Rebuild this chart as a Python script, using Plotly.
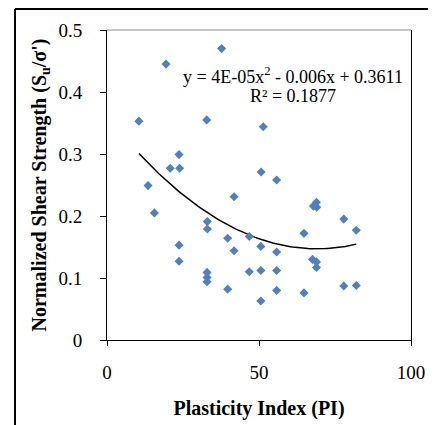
import numpy as np
import plotly.graph_objects as go

# Plasticity Index (PI) and normalized shear strength Su/σ'
pi_values = [37.7, 19.4, 10.5, 32.8, 51.4, 23.7, 20.8, 23.9, 50.7, 13.5,
             55.8, 41.8, 15.6, 33.0, 33.0, 23.7, 39.7, 46.8, 50.6, 41.8,
             23.7, 32.9, 32.9, 32.9, 46.8, 50.6, 39.7, 50.6, 67.9, 68.9,
             69.0, 77.9, 82.0, 64.8, 55.8, 67.6, 68.9, 68.9, 55.8, 55.8,
             64.8, 77.9, 82.0]
su_values = [0.470, 0.445, 0.353, 0.355, 0.344, 0.299, 0.277, 0.277, 0.271, 0.249,
             0.258, 0.231, 0.205, 0.191, 0.179, 0.153, 0.164, 0.167, 0.151, 0.144,
             0.127, 0.109, 0.101, 0.094, 0.110, 0.112, 0.082, 0.063, 0.216, 0.222,
             0.214, 0.195, 0.177, 0.172, 0.142, 0.130, 0.126, 0.117, 0.112, 0.080,
             0.076, 0.087, 0.088]

# polynomial trendline coefficients (a x^2 + b x + c)
trend_coef = [4.49e-5, -0.0062, 0.3611]
equation_line = "y = 4E-05x<sup>2</sup> - 0.006x + 0.3611"
r2_line = "R² = 0.1877"

x_ticks = [0, 50, 100]
y_ticks = [0, 0.1, 0.2, 0.3, 0.4, 0.5]
y_tick_labels = ["0", "0.1", "0.2", "0.3", "0.4", "0.5"]

FONT = "Liberation Serif, Times New Roman, serif"

tx = np.linspace(min(pi_values), max(pi_values), 100)
ty = np.polyval(trend_coef, tx)

# page body has an 8px margin, so the figure is laid out 8px smaller/shifted
OFF = 8
W, H = 436 - OFF, 425 - OFF
L, T = 107 - OFF, 30 - OFF
R, B = 25, 85
pw, ph = W - L - R, H - T - B


def px_x(px):
    return (px - OFF - L) / pw


def px_y(py):
    return (H - B - (py - OFF)) / ph


fig = go.Figure()
fig.add_trace(go.Scatter(x=tx, y=ty, mode="lines",
                         line=dict(color="black", width=1.5),
                         hoverinfo="skip", showlegend=False))
fig.add_trace(go.Scatter(x=pi_values, y=su_values, mode="markers",
                         marker=dict(symbol="diamond", size=7, color="#4F81BD",
                                     line=dict(width=0)),
                         showlegend=False))

fig.update_layout(
    width=W, height=H,
    margin=dict(l=L, r=R, t=T, b=B),
    paper_bgcolor="white", plot_bgcolor="white",
    font=dict(family=FONT, color="black", size=16),
    xaxis=dict(range=[0, 100], tickvals=x_ticks, ticktext=[str(v) for v in x_ticks],
               showline=True, linecolor="black", linewidth=1, mirror=False,
               ticks="outside", ticklen=5, tickcolor="black", showgrid=False,
               zeroline=False, tickfont=dict(size=19), ticklabelstandoff=10,
               automargin=False,
               title=dict(text="<b>Plasticity Index (PI)</b>", font=dict(size=20), standoff=19)),
    yaxis=dict(range=[0, 0.5], tickvals=y_ticks, ticktext=y_tick_labels,
               showline=True, linecolor="black", linewidth=1, mirror=True,
               ticks="outside", ticklen=6, tickcolor="black", showgrid=False,
               zeroline=False, tickfont=dict(size=19), ticklabelstandoff=14,
               automargin=False,
               title=dict(text="<b>Normalized Shear Strength (S<sub>u</sub>/σ')</b>",
                          font=dict(size=20), standoff=6)),
    annotations=[
        dict(x=px_x(293), y=0.426, xref="paper", yref="y", text=equation_line,
             showarrow=False, font=dict(size=18, family=FONT),
             xanchor="center", yanchor="middle"),
        dict(x=px_x(293), y=0.394, xref="paper", yref="y", text=r2_line,
             showarrow=False, font=dict(size=18, family=FONT),
             xanchor="center", yanchor="middle"),
    ],
    shapes=[
        # top border of plot area (grey)
        dict(type="line", xref="paper", yref="paper", x0=0, x1=1, y0=1, y1=1,
             line=dict(color="#8c8c8c", width=1)),
        # outer frame (top and left edges)
        dict(type="line", xref="paper", yref="paper", x0=px_x(15), x1=px_x(440),
             y0=px_y(9), y1=px_y(9), line=dict(color="black", width=2)),
        dict(type="line", xref="paper", yref="paper", x0=px_x(15), x1=px_x(15),
             y0=px_y(9), y1=px_y(430), line=dict(color="black", width=2)),
    ],
)

fig.write_html("out.html")
